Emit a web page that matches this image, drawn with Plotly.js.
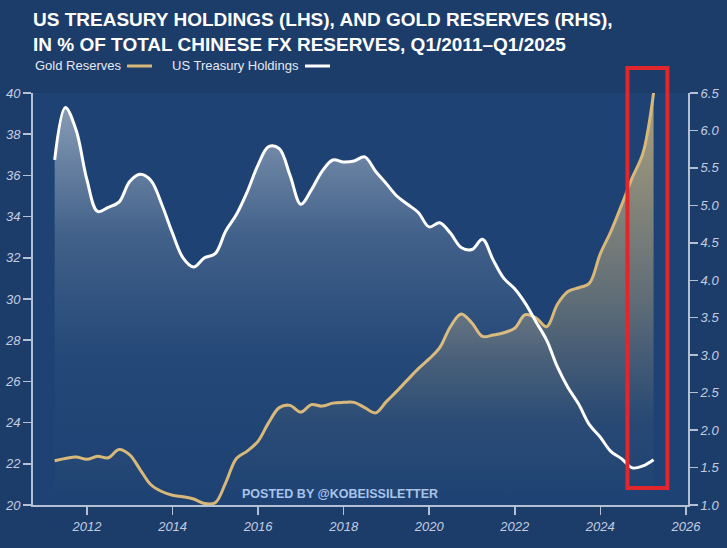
<!DOCTYPE html>
<html>
<head>
<meta charset="utf-8">
<script src="https://cdn.plot.ly/plotly-3.0.1.min.js"></script>
<style>html,body{margin:0;padding:0;background:#1c3c6a;}#chart{width:727px;height:548px;}</style>
</head>
<body>
<div id="chart"></div>
<script>
// Quarter-end dates, Q1/2011 – Q1/2025
const quarters = [
 '2011-03-31','2011-06-30','2011-09-30','2011-12-31',
 '2012-03-31','2012-06-30','2012-09-30','2012-12-31',
 '2013-03-31','2013-06-30','2013-09-30','2013-12-31',
 '2014-03-31','2014-06-30','2014-09-30','2014-12-31',
 '2015-03-31','2015-06-30','2015-09-30','2015-12-31',
 '2016-03-31','2016-06-30','2016-09-30','2016-12-31',
 '2017-03-31','2017-06-30','2017-09-30','2017-12-31',
 '2018-03-31','2018-06-30','2018-09-30','2018-12-31',
 '2019-03-31','2019-06-30','2019-09-30','2019-12-31',
 '2020-03-31','2020-06-30','2020-09-30','2020-12-31',
 '2021-03-31','2021-06-30','2021-09-30','2021-12-31',
 '2022-03-31','2022-06-30','2022-09-30','2022-12-31',
 '2023-03-31','2023-06-30','2023-09-30','2023-12-31',
 '2024-03-31','2024-06-30','2024-09-30','2024-12-31',
 '2025-03-31'
];
// US Treasury holdings, % of FX reserves (LHS)
const usTreasury = [
 36.75, 39.3, 38.2, 35.8,
 34.25, 34.45, 34.7, 35.7,
 36.05, 35.75, 34.6, 33.2,
 32.0, 31.55, 32.0, 32.2,
 33.3, 34.1, 35.2, 36.5,
 37.4, 37.3, 36.0, 34.6,
 35.3, 36.2, 36.75, 36.65,
 36.7, 36.9, 36.2, 35.6,
 35.0, 34.6, 34.2, 33.5,
 33.7, 33.2, 32.5, 32.4,
 32.9, 31.9, 31.0, 30.5,
 29.8, 28.9, 28.0, 26.7,
 25.7, 24.9, 23.9, 23.3,
 22.6, 22.25, 21.8, 21.9,
 22.2
];
// Gold reserves, % of FX reserves (RHS)
const goldReserves = [
 1.59, 1.62, 1.64, 1.61,
 1.65, 1.63, 1.74, 1.67,
 1.47, 1.27, 1.18, 1.13,
 1.11, 1.08, 1.02, 1.03,
 1.30, 1.62, 1.72, 1.85,
 2.10, 2.30, 2.33, 2.24,
 2.34, 2.32, 2.36, 2.37,
 2.37, 2.30, 2.23, 2.38,
 2.52, 2.67, 2.82, 2.95,
 3.10, 3.38, 3.55, 3.43,
 3.25, 3.27, 3.30, 3.36,
 3.54, 3.50, 3.38, 3.68,
 3.85, 3.90, 3.96, 4.35,
 4.65, 5.00, 5.37, 5.70,
 6.50
];
const leftTicks = [20,22,24,26,28,30,32,34,36,38,40];
const rightTicks = [1.0,1.5,2.0,2.5,3.0,3.5,4.0,4.5,5.0,5.5,6.0,6.5];

const axisCol = '#b4c0d4';
const tickFont = {family:'Liberation Sans, Arial, sans-serif', size:13, color:'#c3cde0', style:'italic'};
const GOLD = '#d8b878';

const gold = {
  x: quarters, y: goldReserves, yaxis:'y', type:'scatter', mode:'lines',
  name:'Gold Reserves',
  line:{color:GOLD, width:3, shape:'spline', smoothing:1},
  fill:'tozeroy',
  fillgradient:{type:'vertical', start:1, stop:6.5,
    colorscale:[[0,'rgba(200,175,125,0)'],[0.2,'rgba(200,175,125,0.06)'],[0.5,'rgba(205,180,125,0.38)'],[1,'rgba(215,188,130,0.78)']]},
  hoverinfo:'skip'
};
const ust = {
  x: quarters, y: usTreasury, yaxis:'y2', type:'scatter', mode:'lines',
  name:'US Treasury Holdings',
  line:{color:'#ffffff', width:3, shape:'spline', smoothing:1},
  fill:'tozeroy',
  fillgradient:{type:'vertical', start:20, stop:40,
    colorscale:[[0,'rgba(255,255,255,0)'],[0.35,'rgba(255,255,255,0.03)'],[0.65,'rgba(255,255,255,0.16)'],[1,'rgba(255,255,255,0.5)']]},
  hoverinfo:'skip'
};

function px(x){ return (x-33)/655; }
function py(y){ return (505-y)/412; }

const layout = {
  width:727, height:548,
  margin:{l:33, r:39, t:93, b:43},
  paper_bgcolor:'#1c3c6a', plot_bgcolor:'#1d4273',
  showlegend:false,
  xaxis:{
    type:'date', range:['2010-09-27','2026-01-19'],
    tick0:'2012-01-01', dtick:'M24', tickformat:'%Y',
    ticks:'outside', ticklen:8, tickwidth:1.5, tickcolor:axisCol,
    showline:true, linecolor:axisCol, linewidth:2,
    showgrid:false, zeroline:false, tickfont:tickFont
  },
  yaxis:{
    side:'right', range:[1,6.5], tickmode:'array', tickvals:rightTicks,
    ticktext:rightTicks.map(v=>v.toFixed(1)),
    ticks:'outside', ticklen:8, tickwidth:1.5, tickcolor:axisCol,
    showline:true, linecolor:axisCol, linewidth:2,
    showgrid:false, zeroline:false, tickfont:tickFont
  },
  yaxis2:{
    overlaying:'y', side:'left', range:[20,40], tickmode:'array', tickvals:leftTicks,
    ticks:'outside', ticklen:8, tickwidth:1.5, tickcolor:axisCol,
    showline:true, linecolor:axisCol, linewidth:2,
    showgrid:false, zeroline:false, tickfont:tickFont
  },
  shapes:[
    {type:'line', xref:'paper', yref:'paper', x0:px(127), x1:px(152), y0:py(66), y1:py(66), line:{color:GOLD, width:3}},
    {type:'line', xref:'paper', yref:'paper', x0:px(305), x1:px(330), y0:py(66), y1:py(66), line:{color:'#ffffff', width:3}},
    {type:'rect', xref:'x', yref:'paper', x0:'2024-08-20', x1:'2025-07-27', y0:py(488), y1:py(68), line:{color:'#e3262c', width:4}, fillcolor:'rgba(0,0,0,0)', layer:'above'}
  ],
  annotations:[
    {xref:'paper', yref:'paper', x:px(31), y:py(7), xanchor:'left', yanchor:'top', align:'left', showarrow:false,
     text:'<b>US TREASURY HOLDINGS (LHS), AND GOLD RESERVES (RHS),<br>IN % OF TOTAL CHINESE FX RESERVES, Q1/2011–Q1/2025</b>',
     font:{family:'Liberation Sans Narrow, Arial Narrow, Liberation Sans, sans-serif', size:19, color:'#ffffff'}},
    {xref:'paper', yref:'paper', x:px(33), y:py(65), xanchor:'left', yanchor:'middle', showarrow:false,
     text:'Gold Reserves', font:{family:'Liberation Sans Narrow, Liberation Sans, Arial, sans-serif', size:13, color:'#e4e9f2'}},
    {xref:'paper', yref:'paper', x:px(170), y:py(65), xanchor:'left', yanchor:'middle', showarrow:false,
     text:'US Treasury Holdings', font:{family:'Liberation Sans Narrow, Liberation Sans, Arial, sans-serif', size:13, color:'#e4e9f2'}},
    {xref:'paper', yref:'paper', x:px(340), y:py(494), xanchor:'center', yanchor:'middle', showarrow:false,
     text:'<b>POSTED BY @KOBEISSILETTER</b>', font:{family:'Liberation Sans, Arial, sans-serif', size:12.5, color:'#a9c3ea'}}
  ]
};

Plotly.newPlot('chart', [gold, ust], layout, {staticPlot:true, displayModeBar:false});
</script>
</body>
</html>
